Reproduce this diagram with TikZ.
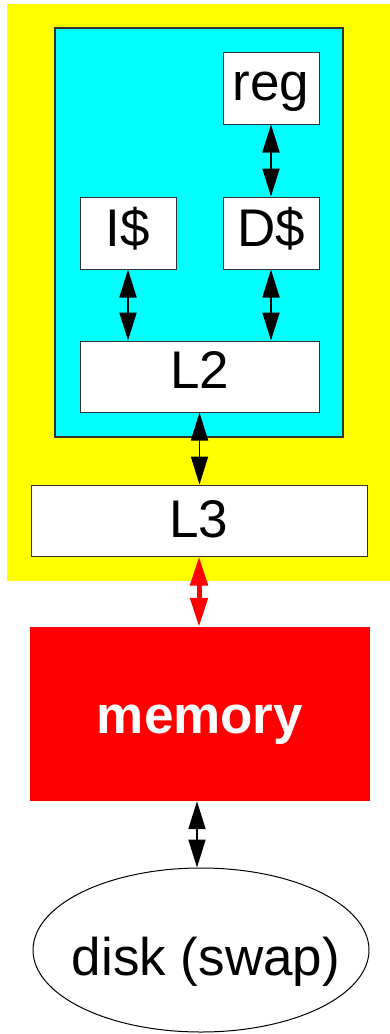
\documentclass[tikz,border=0pt]{standalone}
\usepackage{fontspec}
\setmainfont{Liberation Sans}
\usetikzlibrary{arrows.meta,shapes.geometric}
\definecolor{pkgyellow}{RGB}{255,255,0}
\definecolor{corecyan}{RGB}{0,255,255}
\definecolor{memred}{RGB}{255,0,0}
\begin{document}
\begin{tikzpicture}[x=1pt,y=-1pt,
  txt/.style={font=\fontsize{53}{60}\selectfont, text depth=0pt},
  box/.style={txt, draw=black!80, line width=1pt, fill=white, inner sep=0pt,
    minimum width=96pt, minimum height=72pt},
  link/.style={{Triangle[length=28pt,width=17pt]}-{Triangle[length=28pt,width=17pt]}, line width=1.8pt},
  redlink/.style={{Triangle[length=29pt,width=17pt]}-{Triangle[length=29pt,width=17pt]}, line width=5pt, memred},
]
\useasboundingbox (0,0) rectangle (390,1034);
\fill[white] (0,0) rectangle (390,1034);

% chip package and core
\fill[pkgyellow] (7,4) rectangle (390,581);
\draw[fill=corecyan, draw=black!80, line width=1.3pt] (55,28) rectangle (343,437);

% caches and registers
\node[box, text height=24pt] (reg) at (271,88) {reg};
\node[box, text height=26pt] (icache) at (128,233) {I\$};
\node[box, text height=26pt] (dcache) at (271,233) {D\$};
\node[box, text height=24pt, minimum width=239pt, minimum height=71pt] (l2) at (199.5,376.5) {L2};
\node[box, text height=34pt, minimum width=336pt, minimum height=71pt] (l3) at (199,520.5) {L3};

% main memory and disk
\node[txt, text height=38pt, fill=memred, text=white, font=\fontsize{53}{60}\selectfont\bfseries,
  minimum width=340pt, minimum height=174pt, inner sep=0pt] (mem) at (200,714) {memory};
\node[ellipse, draw=black, line width=1pt, fill=white,
  minimum width=336pt, minimum height=164pt, inner sep=0pt] (disk) at (201,950) {};
\node[txt, anchor=base] (disklabel) at (206,975) {disk (swap)};

% data paths
\draw[link] (reg.south) -- (dcache.north);
\draw[link] (icache.south) -- (icache.south |- l2.north);
\draw[link] (dcache.south) -- (dcache.south |- l2.north);
\draw[link] (l2.south) -- (l2.south |- l3.north);
\draw[redlink] (l3.south) -- (l3.south |- mem.north);
\draw[link] ([xshift=-3pt]mem.south) -- ([xshift=-3pt]mem.south |- disk.north);
\end{tikzpicture}
\end{document}
